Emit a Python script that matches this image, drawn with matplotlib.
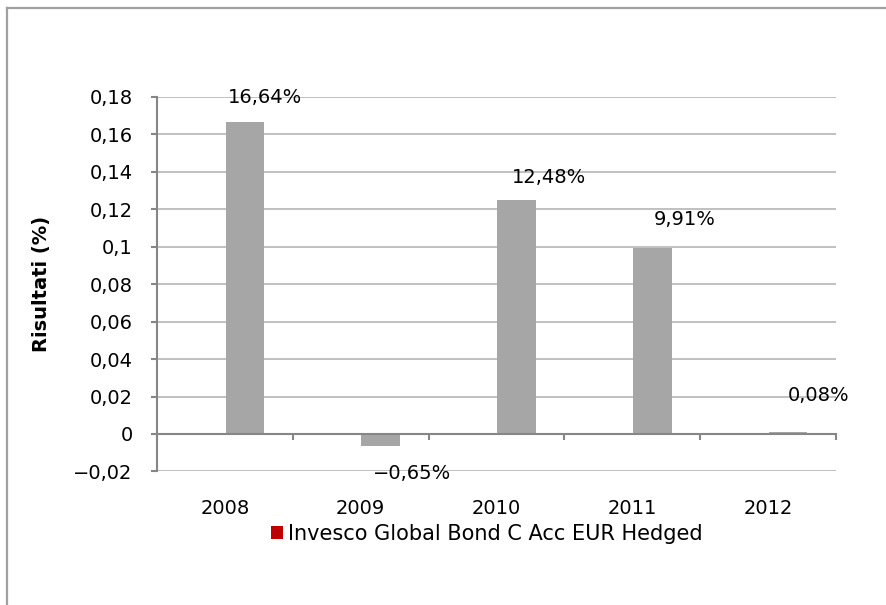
import matplotlib
matplotlib.use("Agg")
import matplotlib.pyplot as plt
from matplotlib.patches import Patch
from matplotlib.lines import Line2D
from matplotlib.ticker import FixedLocator
import matplotlib.transforms as mtransforms

# ---- data ----
years = ["2008", "2009", "2010", "2011", "2012"]
returns = [0.1664, -0.0065, 0.1248, 0.0991, 0.0008]
value_labels = ["16,64%", "-0,65%", "12,48%", "9,91%", "0,08%"]
yticks = [-0.02, 0, 0.02, 0.04, 0.06, 0.08, 0.1, 0.12, 0.14, 0.16, 0.18]
ytick_labels = ["\u22120,02", "0", "0,02", "0,04", "0,06", "0,08", "0,1",
                "0,12", "0,14", "0,16", "0,18"]
series_name = "Invesco Global Bond C Acc EUR Hedged"
y_label = "Risultati (%)"

# label offsets in pixels (dx, dy) relative to bar end
label_offsets = [(20, 25), (31, -27), (33, 23), (32, 29), (30, 37)]
bar_shift = 0.147  # bars sit right of category centre (clustered layout)

plt.rcParams['font.family'] = ['DejaVu Sans']
W, H = 886, 605
fig = plt.figure(figsize=(W / 100, H / 100), dpi=100)

# outer chart border (only left and top visible)
fig.lines.append(Line2D([7 / W, 7 / W], [-0.05, 1 - 7.5 / H],
                        transform=fig.transFigure, color="#a0a0a0", linewidth=1.6))
fig.lines.append(Line2D([7 / W, 1.05], [1 - 7.5 / H, 1 - 7.5 / H],
                        transform=fig.transFigure, color="#a0a0a0", linewidth=1.6))

ax = fig.add_axes([157 / W, 1 - 471.4 / H, (836 - 157) / W, (471.4 - 97) / H])

x = list(range(len(years)))
bars = ax.bar([i + bar_shift for i in x], returns, width=0.285,
              color="#a6a6a6", zorder=3)

ax.set_xlim(-0.5, len(years) - 0.5)
ax.set_ylim(-0.02, 0.18)
ax.yaxis.set_major_locator(FixedLocator(yticks))
ax.set_yticklabels(ytick_labels, fontsize=14)
ax.grid(axis="y", color="#c0c0c0", linewidth=1.4, zorder=0)
ax.set_axisbelow(True)

for s in ["top", "right"]:
    ax.spines[s].set_visible(False)
ax.spines["left"].set_color("#868686")
ax.spines["left"].set_linewidth(1.5)
ax.spines["bottom"].set_position(("data", 0))
ax.spines["bottom"].set_color("#868686")
ax.spines["bottom"].set_linewidth(1.5)
ax.spines["bottom"].set_zorder(4)

ax.tick_params(axis="y", direction="out", length=4.5, width=1.5,
               color="#868686", pad=13)
# category boundary ticks on x axis
bounds = [i - 0.5 for i in range(len(years) + 1)]
ax.set_xticks(bounds)
ax.set_xticklabels([])
ax.tick_params(axis="x", direction="out", length=4.5, width=1.5, color="#868686")

# category labels at bottom of the plot area
trans = mtransforms.blended_transform_factory(ax.transData, ax.transAxes)
for i, yr in enumerate(years):
    ax.text(i, -0.10, yr, transform=trans, ha="center", va="center", fontsize=14)

# value labels
for i, (v, lab) in enumerate(zip(returns, value_labels)):
    dx, dy = label_offsets[i]
    txt = lab.replace("-", "\u2212")
    ax.annotate(txt, xy=(i + bar_shift, v), xytext=(dx * 0.72, dy * 0.72),
                textcoords="offset points", ha="center", va="center",
                fontsize=14, zorder=5)

fig.text(42 / W, 1 - 284 / H, y_label, rotation=90, ha="center", va="center",
         fontsize=14, fontweight="bold")

leg = fig.legend(handles=[Patch(facecolor="#c00000", edgecolor="none")],
                 labels=[series_name], loc="center",
                 bbox_to_anchor=(487 / W, 1 - 534 / H), frameon=False,
                 fontsize=15, handlelength=0.55, handleheight=0.55,
                 handletextpad=0.25, borderpad=0)

fig.savefig("out.png", dpi=100, facecolor="white")
